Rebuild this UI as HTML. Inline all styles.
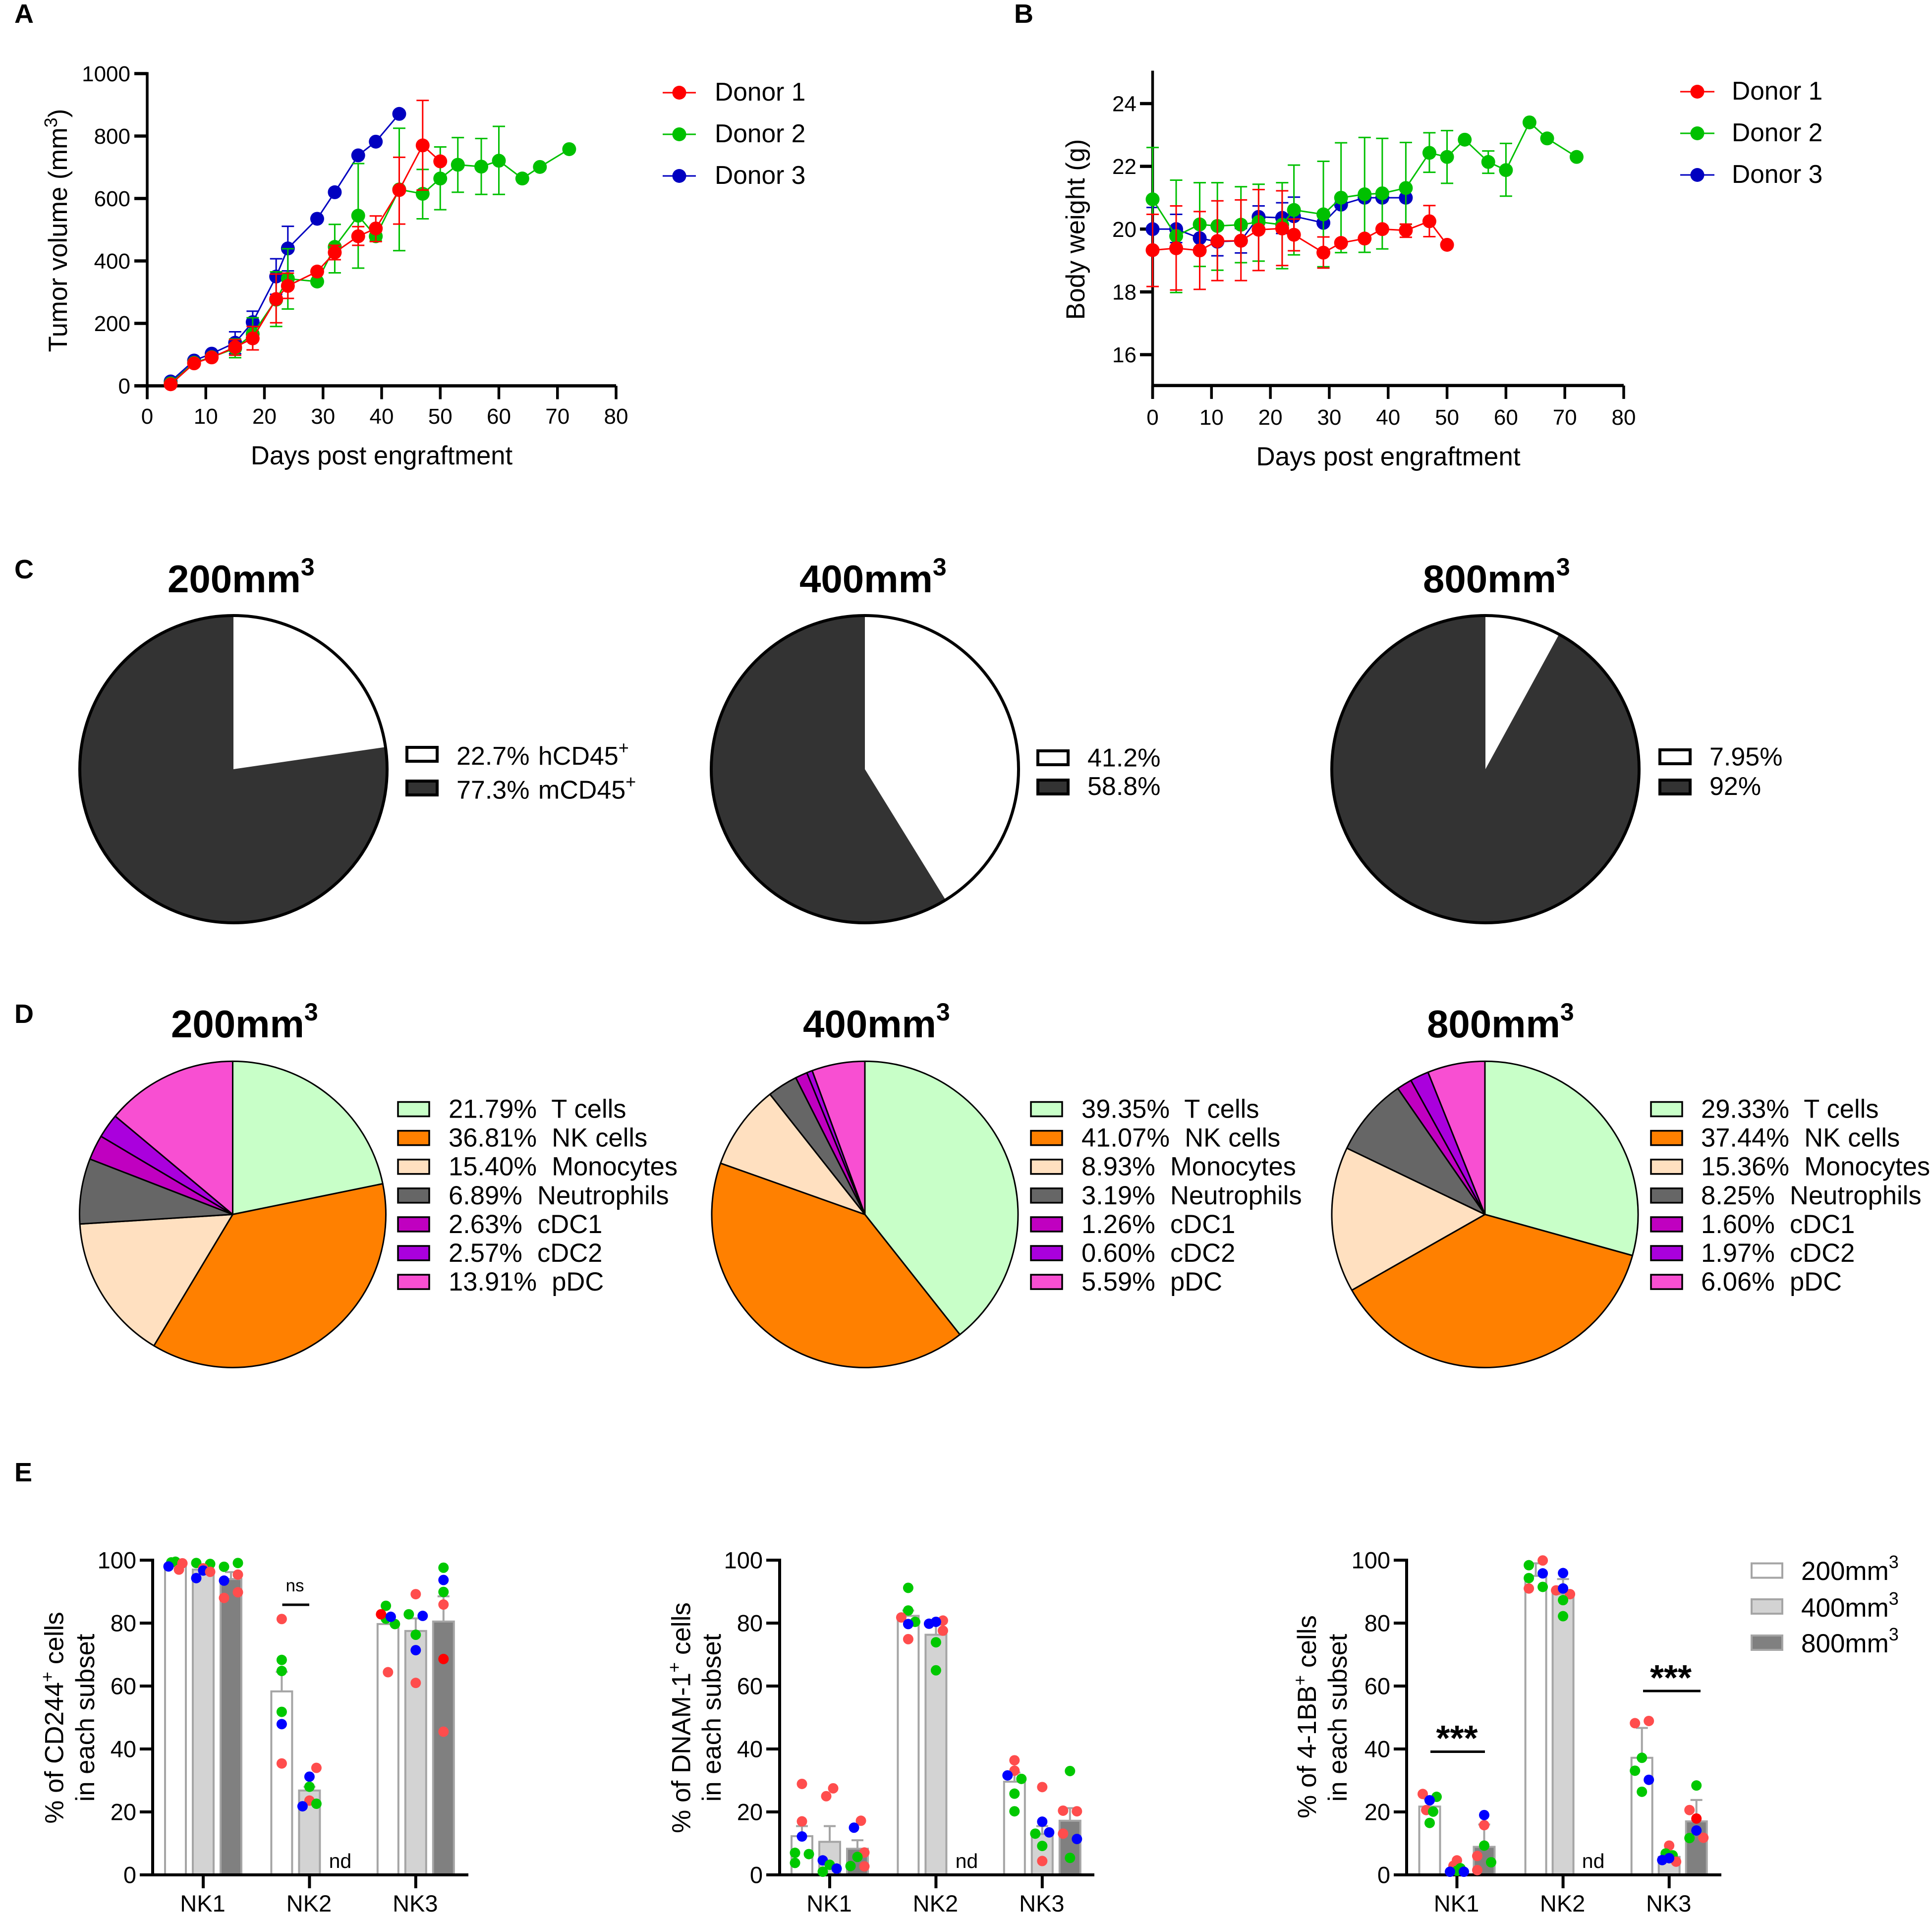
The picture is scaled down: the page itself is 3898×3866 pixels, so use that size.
<!DOCTYPE html>
<html lang="en">
<head>
<meta charset="utf-8">
<title>Tumor engraftment figure</title>
<style>
  html, body { margin: 0; padding: 0; background: #fff; }
  svg { display: block; }
  text { font-family: "Liberation Sans", Arial, sans-serif; fill: #000; white-space: pre; }
</style>
</head>
<body>
<svg id="figure" xmlns="http://www.w3.org/2000/svg" width="3898" height="3866" viewBox="0 0 3898 3866">
  <rect x="0" y="0" width="3898" height="3866" fill="#fff"/>

  <text x="29" y="46" font-size="54" font-weight="700">A</text>
  <text x="2046" y="46" font-size="54" font-weight="700">B</text>
  <text x="29" y="1167" font-size="54" font-weight="700">C</text>
  <text x="29" y="2064" font-size="54" font-weight="700">D</text>
  <text x="29" y="2989" font-size="54" font-weight="700">E</text>

  <g id="panel-a">
    <text x="770" y="937" font-size="52.5" text-anchor="middle">Days post engraftment</text>
    <text transform="translate(135,465) rotate(-90)" font-size="52.5" text-anchor="middle">Tumor volume (mm<tspan font-size="36" dy="-20">3</tspan><tspan dy="20">)</tspan></text>
  </g>
  <g id="panel-b">
    <text x="2801" y="939" font-size="53" text-anchor="middle">Days post engraftment</text>
    <text transform="translate(2188,463) rotate(-90)" font-size="52.5" text-anchor="middle">Body weight (g)</text>
  </g>

  <g id="panel-c">
    <text x="338" y="1195" font-size="78" font-weight="700">200mm<tspan font-size="50" dy="-34">3</tspan></text>
    <text x="1613" y="1195" font-size="78" font-weight="700">400mm<tspan font-size="50" dy="-34">3</tspan></text>
    <text x="2871" y="1195" font-size="78" font-weight="700">800mm<tspan font-size="50" dy="-34">3</tspan></text>
  </g>
  <g id="panel-d">
    <text x="345" y="2093" font-size="78" font-weight="700">200mm<tspan font-size="50" dy="-34">3</tspan></text>
    <text x="1620" y="2093" font-size="78" font-weight="700">400mm<tspan font-size="50" dy="-34">3</tspan></text>
    <text x="2879" y="2093" font-size="78" font-weight="700">800mm<tspan font-size="50" dy="-34">3</tspan></text>
  </g>

  <g id="panel-e1">
    <text transform="translate(127.5,3466) rotate(-90)" font-size="53" text-anchor="middle">% of CD244<tspan font-size="36" dy="-20">+</tspan><tspan dy="20"> cells</tspan></text>
    <text transform="translate(190,3466) rotate(-90)" font-size="52.5" text-anchor="middle">in each subset</text>
  </g>
  <g id="panel-e2">
    <text transform="translate(1392.5,3466) rotate(-90)" font-size="53" text-anchor="middle">% of DNAM-1<tspan font-size="36" dy="-20">+</tspan><tspan dy="20"> cells</tspan></text>
    <text transform="translate(1454,3466) rotate(-90)" font-size="52.5" text-anchor="middle">in each subset</text>
  </g>
  <g id="panel-e3">
    <text transform="translate(2655,3464) rotate(-90)" font-size="53" text-anchor="middle">% of 4-1BB<tspan font-size="36" dy="-20">+</tspan><tspan dy="20"> cells</tspan></text>
    <text transform="translate(2717,3466) rotate(-90)" font-size="52.5" text-anchor="middle">in each subset</text>
  </g>
  <g id="panel-e-annotations">
    <text x="595" y="3211" font-size="35" text-anchor="middle">ns</text>
    <rect x="569.5" y="3235.5" width="54.5" height="5" fill="#000"/>
    <text x="2939.5" y="3532" font-size="72" font-weight="700" text-anchor="middle">***</text>
    <rect x="2886" y="3532" width="110" height="5" fill="#000"/>
    <text x="3371" y="3410" font-size="72" font-weight="700" text-anchor="middle">***</text>
    <rect x="3315" y="3409.5" width="116" height="5" fill="#000"/>
  </g>
  <g id="panel-e-legend">
    <rect x="3534" y="3154.5" width="62" height="29" fill="#fff" stroke="#a5a5a5" stroke-width="4"/>
    <text x="3634" y="3188" font-size="53">200mm<tspan font-size="36" dy="-24">3</tspan></text>
    <rect x="3534" y="3227" width="62" height="29" fill="#d3d3d3" stroke="#a5a5a5" stroke-width="4"/>
    <text x="3634" y="3262" font-size="53">400mm<tspan font-size="36" dy="-24">3</tspan></text>
    <rect x="3534" y="3300" width="62" height="29" fill="#808080" stroke="#a5a5a5" stroke-width="4"/>
    <text x="3634" y="3334" font-size="53">800mm<tspan font-size="36" dy="-24">3</tspan></text>
  </g>
</svg>

<script>
/* ---------- Panel A: tumor volume ---------- */
const tumorXTicks = [0, 10, 20, 30, 40, 50, 60, 70, 80];
const tumorYTicks = [0, 200, 400, 600, 800, 1000];
const tumorDays1 = [4, 8, 11, 15, 18, 22, 24, 29, 32, 36, 39, 43, 47, 50];
const tumorMean1 = [5, 72, 91, 124, 152, 278, 320, 366, 427, 479, 504, 627, 770, 719];
const tumorUpper1 = [null, null, null, 148, 190, 358, 361, null, 450, 510, 544, 732, 914, null];
const tumorLower1 = [null, null, null, 98, 115, 202, 280, null, 404, 450, 462, 518, 627, null];
const tumorDays2 = [4, 8, 11, 15, 18, 22, 24, 29, 32, 36, 39, 43, 47, 50, 53, 57, 60, 64, 67, 72];
const tumorMean2 = [8, 74, 92, 120, 166, 276, 343, 334, 445, 545, 479, 629, 615, 664, 708, 702, 721, 664, 701, 758];
const tumorUpper2 = [null, null, null, 150, 218, 365, 439, null, 517, 712, 495, 825, 693, 765, 795, 792, 831, null, null, null];
const tumorLower2 = [null, null, null, 90, 115, 190, 246, null, 362, 377, 464, 433, 535, 564, 620, 613, 613, null, null, null];
const tumorDays3 = [4, 8, 11, 15, 18, 22, 24, 29, 32, 36, 39, 43];
const tumorMean3 = [14, 81, 103, 138, 204, 350, 440, 535, 620, 738, 782, 871];
const tumorUpper3 = [null, null, null, 173, 239, 407, 511, null, null, null, null, null];
const tumorLower3 = [null, null, null, 103, 169, 293, 368, null, null, null, null, null];

/* ---------- Panel B: body weight ---------- */
const weightXTicks = [0, 10, 20, 30, 40, 50, 60, 70, 80];
const weightYTicks = [16, 18, 20, 22, 24];
const weightDays1 = [0, 4, 8, 11, 15, 18, 22, 24, 29, 32, 36, 39, 43, 47, 50];
const weightMean1 = [19.33, 19.39, 19.32, 19.62, 19.63, 19.98, 20.02, 19.82, 19.25, 19.56, 19.7, 20.0, 19.96, 20.25, 19.5];
const weightUpper1 = [20.47, 20.74, 20.56, 20.9, 20.93, 21.26, 21.22, 20.32, 19.75, null, null, null, 20.16, 20.75, null];
const weightLower1 = [18.17, 18.06, 18.08, 18.36, 18.36, 18.68, 18.84, 19.31, 18.76, null, null, null, 19.74, 19.76, null];
const weightDays2 = [0, 4, 8, 11, 15, 18, 22, 24, 29, 32, 36, 39, 43, 47, 50, 53, 57, 60, 64, 67, 72];
const weightMean2 = [20.95, 19.78, 20.15, 20.1, 20.14, 20.23, 20.14, 20.61, 20.47, 21.0, 21.11, 21.14, 21.31, 22.43, 22.3, 22.85, 22.14, 21.88, 23.4, 22.89, 22.3];
const weightUpper2 = [22.6, 21.56, 21.48, 21.48, 21.35, 21.43, 21.48, 22.04, 22.16, 22.75, 22.92, 22.89, 22.76, 23.07, 23.14, null, 22.49, 22.73, null, null, null];
const weightLower2 = [19.3, 17.98, 18.81, 18.69, 18.93, 18.98, 18.74, 19.18, 18.8, 19.25, 19.26, 19.37, 20.15, 21.81, 21.46, null, 21.78, 21.05, null, null, null];
const weightDays3 = [0, 4, 8, 11, 15, 18, 22, 24, 29, 32, 36, 39, 43];
const weightMean3 = [20, 20, 19.71, 19.6, 19.63, 20.39, 20.36, 20.41, 20.2, 20.78, 21, 21, 21];
const weightUpper3 = [20.69, 20.47, 20.1, 20.05, 20.02, 20.74, 20.84, 21.02, null, null, null, null, null];
const weightLower3 = [19.31, 19.57, 19.3, 19.15, 19.24, 20.04, 19.86, 19.8, null, null, null, null, null];

const donorLabels = ['Donor 1', 'Donor 2', 'Donor 3'];

/* ---------- Panel C: CD45 pies ---------- */
const hcd45Percent = [22.7, 41.2, 7.95];
const mcd45Percent = [77.3, 58.8, 92];

/* ---------- Panel D: cell-type pies ---------- */
const cellTypes = ['T cells', 'NK cells', 'Monocytes', 'Neutrophils', 'cDC1', 'cDC2', 'pDC'];
const cellShare200 = [21.79, 36.81, 15.40, 6.89, 2.63, 2.57, 13.91];
const cellShare400 = [39.35, 41.07, 8.93, 3.19, 1.26, 0.60, 5.59];
const cellShare800 = [29.33, 37.44, 15.36, 8.25, 1.60, 1.97, 6.06];

/* ---------- Panel E: bars and dots (order: NK1 200/400/800, NK2 ..., NK3 ...) ---------- */
const nkSubsets = ['NK1', 'NK2', 'NK3'];
const percentTicks = [0, 20, 40, 60, 80, 100];

const cd244Bars = [98, 97, 94, 58.3, 26.8, null, 79.7, 77.5, 80.5];
const cd244Errors = [99, 98.5, 96.2, 64.5, 28, null, 82, 81.5, 88.5];
const cd244Dots = [
  [99.3, 99.5, 98, 97, 99],
  [99.1, 98.8, 94.3, 97.4, 96.7, 96.3],
  [97.9, 99.1, 93.5, 95.4, 88, 89.8],
  [81.3, 68.3, 64.8, 51.8, 47.9, 35.4],
  [34, 31.2, 28, 23.6, 22.6, 21.8],
  [],
  [85.5, 81.4, 79.7, 64.4, 82.8, 82],
  [89.2, 82.8, 82.3, 76.3, 71.4, 61],
  [97.6, 93.7, 89.9, 85.9, 68.6, 45.5]
];
const cd244Donors = ['ggbrr', 'ggbrbr', 'ggbrrr', 'rgggbr', 'rbgrgb', '', 'gggrRb', 'rgbgbr', 'gbgrRr'];
const cd244Jitter = [
  [-0.6, 0, -1, 0.5, 1],
  [-1, 1, -1, 0, 0, 1],
  [-1, 1, -1, 1, -1, 1],
  [0, 0, 0, 0, 0, 0],
  [1, 0, 0, 0, 1, -1],
  [],
  [-0.3, -0.3, 1, 0, -1, 0.4],
  [0, -1, 1, 0, 0, 0],
  [0, 0, 0, 0, 0, 0]
];

const dnamBars = [12.3, 10.5, 8.3, 82.3, 76.3, null, 29.6, 13, 17.2];
const dnamErrors = [15.5, 15.5, 11, 84, 79.5, null, 32.5, 15.5, 21.2];
const dnamDots = [
  [28.9, 17, 12.2, 7, 6.6, 3.8],
  [27.5, 25, 4.6, 3.2, 2, 1],
  [17.2, 15, 7.1, 5.7, 2.8, 2.7],
  [91.2, 84, 81.8, 80.4, 79.7, 74.9],
  [80.8, 79.8, 80.4, 77.6, 73.9, 65],
  [],
  [36.4, 33.1, 31.6, 30.5, 25.8, 20.2],
  [27.9, 16.9, 13.5, 13.1, 9.2, 4.4],
  [33, 20.4, 20.2, 13.1, 11.4, 5.4]
];
const dnamDonors = ['rrbggg', 'rrbgbg', 'rbrggr', 'ggrgbr', 'rbbrgg', '', 'rrbggg', 'rbbggr', 'grrrbg'];
const dnamJitter = [
  [0, 0, 0, -1, 1, -1],
  [0.5, -0.5, -1, 0, 1, -1],
  [0.5, -0.5, 1, 0, -1, 1],
  [0, 0, -1, 1, 0, 0],
  [1, -1, 0, 1, 0, 0],
  [],
  [0, 0, -1, 1, 0, 0],
  [0, 0, 1, -1, 0, 0],
  [0, -1, 1, -1, 1, 0]
];

const bbBars = [21.7, 1.5, 8.9, 95, 89.3, null, 37.2, 5.7, 17];
const bbErrors = [24, 2, 16, 99, 94, null, 46.7, 7, 23.8];
const bbDots = [
  [25.7, 24.8, 20.6, 20.1, 16.5, 23.7],
  [4.6, 2.9, 2.1, 1.3, 1, 1],
  [15.8, 9.3, 6, 4, 1.5, 19],
  [99.9, 98.4, 94.3, 91.5, 91, 95.8],
  [90.4, 89.2, 87.3, 82.2, 95.9, 91],
  [],
  [48.2, 48.9, 37.2, 33.1, 26.4, 30.2],
  [9.3, 6.8, 6.2, 4.2, 4.7, 5.3],
  [28.4, 20.6, 11.8, 11.7, 14.1, 17.9]
];
const bbDonors = ['rgrggb', 'rrggbb', 'rgrgrb', 'rgggrb', 'rrggbb', '', 'rrgggb', 'rggrbb', 'grrgbR'];
const bbJitter = [
  [-1, 1, -0.5, 0.5, 0, 0],
  [0, -0.5, 0.5, 0, -1, 1],
  [0, 0, -1, 1, -1, 0],
  [1, -1, -1, 1, -1, 1],
  [-1, 1, 0, 0, 0, 0],
  [],
  [-1, 1, 0, -1, 0, 1],
  [0, -0.5, 0.5, 1, -1, 0],
  [0, -1, 1, -1, 0, 0]
];

/* ---------- drawing ---------- */
const NS = 'http://www.w3.org/2000/svg';

function make(parent, tag, attrs, content) {
  const node = document.createElementNS(NS, tag);
  for (const key in attrs) node.setAttribute(key, attrs[key]);
  if (content !== undefined) node.textContent = content;
  parent.appendChild(node);
  return node;
}

function linear(d0, d1, r0, r1) {
  return function (v) { return r0 + (v - d0) * (r1 - r0) / (d1 - d0); };
}

function drawTimeAxes(g, x, y, xTicks, yTicks, yAxisX, yAxisTop, xAxisY, xAxisEnd, tickLeft, showZeroLeft, xBase, yLabelX) {
  const yAxis = make(g, 'line', { x1: yAxisX, x2: yAxisX, y1: yAxisTop, y2: xAxisY + 27, stroke: '#000', 'stroke-width': 5.5 });
  
  
  const xAxis = make(g, 'line', { x1: showZeroLeft ? tickLeft : yAxisX, x2: xAxisEnd, y1: xAxisY, y2: xAxisY, stroke: '#000', 'stroke-width': 6.5 });
  
  
  xTicks.forEach(function (t) {
    const tick = make(g, 'line', { x1: x(t), x2: x(t), y1: xAxisY, y2: xAxisY + 27, stroke: '#000', 'stroke-width': 5.5 });
    
    
    const label = make(g, 'text', { x: x(t), y: xBase, 'font-size': 44, 'text-anchor': 'middle' }, String(t));
    
    
  });
  yTicks.forEach(function (t) {
    const tick = make(g, 'line', { x1: tickLeft, x2: yAxisX, y1: y(t), y2: y(t), stroke: '#000', 'stroke-width': 6.5 });
    
    
    const label = make(g, 'text', { x: yLabelX, y: y(t) + 15.5, 'font-size': 44, 'text-anchor': 'end' }, String(t));
    
    
  });
}

function drawSeries(g, x, y, days, mean, upper, lower, color, seriesName) {
  const series = make(g, 'g', {});
  
  
  days.forEach(function (d, i) {
    if (upper[i] !== null) {
      const err = make(series, 'path', {
        d: 'M' + x(d) + ' ' + y(lower[i]) + 'V' + y(upper[i]) +
           'M' + (x(d) - 12.5) + ' ' + y(upper[i]) + 'h25' +
           'M' + (x(d) - 12.5) + ' ' + y(lower[i]) + 'h25',
        fill: 'none', stroke: color, 'stroke-width': 3
      });
      
      
    }
  });
  const pts = days.map(function (d, i) { return x(d) + ',' + y(mean[i]); }).join(' ');
  const line = make(series, 'polyline', { points: pts, fill: 'none', stroke: color, 'stroke-width': 3 });
  
  
  days.forEach(function (d, i) {
    const dot = make(series, 'circle', { cx: x(d), cy: y(mean[i]), r: 14, fill: color });
    
    
  });
}

function drawDonorLegend(g, lineX1, lineX2, textX, rowYs) {
  const colors = ['#ff0000', '#00c000', '#0000c0'];
  donorLabels.forEach(function (name, i) {
    const line = make(g, 'line', { x1: lineX1, x2: lineX2, y1: rowYs[i], y2: rowYs[i], stroke: colors[i], 'stroke-width': 3 });
    
    
    const dot = make(g, 'circle', { cx: (lineX1 + lineX2) / 2, cy: rowYs[i], r: 14, fill: colors[i] });
    
    
    const label = make(g, 'text', { x: textX, y: rowYs[i] + 16, 'font-size': 51.5 }, name);
    
    
  });
}

function slicePath(cx, cy, r, a0, a1) {
  const x0 = cx + r * Math.sin(a0), y0 = cy - r * Math.cos(a0);
  const x1 = cx + r * Math.sin(a1), y1 = cy - r * Math.cos(a1);
  const large = a1 - a0 > Math.PI ? 1 : 0;
  return 'M' + cx + ' ' + cy + 'L' + x0 + ' ' + y0 + 'A' + r + ' ' + r + ' 0 ' + large + ' 1 ' + x1 + ' ' + y1 + 'Z';
}

function drawPie(g, cx, cy, r, values, colors, sliceStroke) {
  const total = values.reduce(function (a, b) { return a + b; }, 0);
  let angle = 0;
  values.forEach(function (v, i) {
    const next = angle + v / total * 2 * Math.PI;
    const attrs = { d: slicePath(cx, cy, r, angle, next), fill: colors[i] };
    if (sliceStroke) { attrs.stroke = '#000'; attrs['stroke-width'] = sliceStroke; attrs['stroke-linejoin'] = 'round'; }
    const slice = make(g, 'path', attrs);
    
    
    angle = next;
  });
}

function drawCdPie(index, cx, cy, swatchX, textX, rowA, rowB, baseA, baseB, labels) {
  const g = document.getElementById('panel-c');
  const colors = ['#ffffff', '#333333'];
  drawPie(g, cx, cy, 310, [hcd45Percent[index], mcd45Percent[index]], colors, 0);
  const rim = make(g, 'circle', { cx: cx, cy: cy, r: 310, fill: 'none', stroke: '#000', 'stroke-width': 6 });
  
  
  [rowA, rowB].forEach(function (rowY, i) {
    const sw = make(g, 'rect', { x: swatchX + 3, y: rowY + 3, width: 61, height: 28, fill: colors[i], stroke: '#000', 'stroke-width': 6 });
    
    
    const value = i === 0 ? hcd45Percent[index] : mcd45Percent[index];
    const txt = make(g, 'text', { x: textX, y: i === 0 ? baseA : baseB, 'font-size': 52, 'word-spacing': 3 }, value + '%' + (labels ? ' ' + labels[i] : ''));
    
    
    if (labels) {
      const sup = make(txt, 'tspan', { 'font-size': 36, dy: -22 }, '+');
      
      
    }
  });
}

function drawCellPie(values, cx, cy, swatchX, textX) {
  const g = document.getElementById('panel-d');
  const colors = ['#c8ffc8', '#ff8000', '#ffe0c0', '#666666', '#c000c0', '#aa00dd', '#f84fd2'];
  drawPie(g, cx, cy, 309, values, colors, 3);
  values.forEach(function (v, i) {
    const rowY = 2238 + i * 58.1;
    const sw = make(g, 'rect', { x: swatchX + 2, y: rowY - 14.5, width: 63, height: 29, fill: colors[i], stroke: '#000', 'stroke-width': 3.5 });
    
    
    const txt = make(g, 'text', { x: textX, y: rowY + 17.5, 'font-size': 52.5, 'word-spacing': 0.5 }, v.toFixed(2) + '%  ' + cellTypes[i]);
    
    
  });
}

function drawBarChart(groupId, bars, errors, dots, donors, jitter, yAxisX, tickLeft, xEnd, firstCenter, groupStep, barStep) {
  const g = document.getElementById(groupId);
  const y = linear(0, 100, 3783, 3148);
  const groupX = function (k) { return firstCenter + k * groupStep; };
  const fills = ['#ffffff', '#d3d3d3', '#808080'];
  const dotColors = { g: '#00c800', G: '#00c800', b: '#0000ff', r: '#ff4d4d', R: '#ff0000' };

  bars.forEach(function (v, i) {
    const center = groupX(Math.floor(i / 3)) + (i % 3 - 1) * barStep;
    if (v === null) {
      const nd = make(g, 'text', { x: center + 6, y: 3769, 'font-size': 41, 'text-anchor': 'middle' }, 'nd');
      
      
      return;
    }
    const bar = make(g, 'rect', { x: center - 21, y: y(v), width: 42, height: y(0) - y(v), fill: fills[i % 3], stroke: '#a5a5a5', 'stroke-width': 4 });
    
    
    const err = make(g, 'path', {
      d: 'M' + center + ' ' + y(v) + 'V' + y(errors[i]) + 'M' + (center - 12) + ' ' + y(errors[i]) + 'h24',
      fill: 'none', stroke: '#a5a5a5', 'stroke-width': 4
    });
    
    
  });

  const yLine = make(g, 'line', { x1: yAxisX, x2: yAxisX, y1: y(100) - 3, y2: y(0) + 3, stroke: '#000', 'stroke-width': 6 });
  
  
  const xLine = make(g, 'line', { x1: tickLeft, x2: xEnd, y1: y(0), y2: y(0), stroke: '#000', 'stroke-width': 6 });
  
  

  percentTicks.forEach(function (t) {
    const tick = make(g, 'line', { x1: tickLeft, x2: yAxisX, y1: y(t), y2: y(t), stroke: '#000', 'stroke-width': 6 });
    
    
    const label = make(g, 'text', { x: tickLeft - 7, y: y(t) + 16.5, 'font-size': 47, 'text-anchor': 'end' }, String(t));
    
    
  });
  nkSubsets.forEach(function (name, k) {
    const tick = make(g, 'line', { x1: groupX(k), x2: groupX(k), y1: y(0), y2: y(0) + 27, stroke: '#000', 'stroke-width': 6 });
    
    
    const label = make(g, 'text', { x: groupX(k) - 1, y: 3857, 'font-size': 47, 'text-anchor': 'middle' }, name);
    
    
  });

  dots.forEach(function (list, i) {
    const center = groupX(Math.floor(i / 3)) + (i % 3 - 1) * barStep;
    list.forEach(function (v, j) {
      const dot = make(g, 'circle', { cx: center + jitter[i][j] * 14, cy: y(v), r: 10.5, fill: dotColors[donors[i][j]] });
      
      
    });
  });
}

/* Panel A */
(function () {
  const g = document.getElementById('panel-a');
  const x = linear(0, 80, 297, 1243);
  const y = linear(0, 1000, 778.5, 148.5);
  drawTimeAxes(g, x, y, tumorXTicks, tumorYTicks, 297, y(1000) - 3, y(0), 1243, 271, true, 855, 263);
  drawSeries(g, x, y, tumorDays3, tumorMean3, tumorUpper3, tumorLower3, '#0000c0', 'donor-3-series');
  drawSeries(g, x, y, tumorDays2, tumorMean2, tumorUpper2, tumorLower2, '#00c000', 'donor-2-series');
  drawSeries(g, x, y, tumorDays1, tumorMean1, tumorUpper1, tumorLower1, '#ff0000', 'donor-1-series');
  drawDonorLegend(g, 1337, 1404, 1442, [187, 271, 355]);
})();

/* Panel B */
(function () {
  const g = document.getElementById('panel-b');
  const x = linear(0, 80, 2325.5, 3276);
  const y = linear(16, 24, 715.6, 209);
  drawTimeAxes(g, x, y, weightXTicks, weightYTicks, 2325.5, y(25) - 3, y(15) - 1, 3276, 2300, false, 857, 2293);
  drawSeries(g, x, y, weightDays3, weightMean3, weightUpper3, weightLower3, '#0000c0', 'donor-3-series');
  drawSeries(g, x, y, weightDays2, weightMean2, weightUpper2, weightLower2, '#00c000', 'donor-2-series');
  drawSeries(g, x, y, weightDays1, weightMean1, weightUpper1, weightLower1, '#ff0000', 'donor-1-series');
  drawDonorLegend(g, 3390, 3459, 3494, [185, 269, 353]);
})();

/* Panel C */
drawCdPie(0, 471, 1552, 818, 921, 1505, 1573, 1543, 1611.5, ['hCD45', 'mCD45']);
drawCdPie(1, 1745, 1552, 2091, 2194, 1512, 1571, 1546.5, 1604, null);
drawCdPie(2, 2997, 1552, 3346, 3449, 1510, 1571, 1544.5, 1604, null);

/* Panel D */
drawCellPie(cellShare200, 469.5, 2450.4, 801, 905);
drawCellPie(cellShare400, 1745, 2450.4, 2078, 2182);
drawCellPie(cellShare800, 2996, 2450.4, 3329, 3432);

/* Panel E */
drawBarChart('panel-e1', cd244Bars, cd244Errors, cd244Dots, cd244Donors, cd244Jitter, 308, 282, 945, 410, 214.4, 56);
drawBarChart('panel-e2', dnamBars, dnamErrors, dnamDots, dnamDonors, dnamJitter, 1573, 1546, 2208, 1674, 214.4, 56);
drawBarChart('panel-e3', bbBars, bbErrors, bbDots, bbDonors, bbJitter, 2838, 2812, 3473, 2939.5, 214.1, 55);
</script>
</body>
</html>
